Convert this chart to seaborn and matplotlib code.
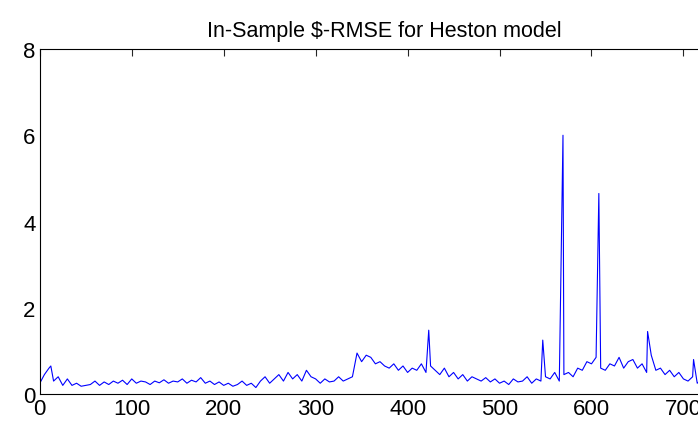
import numpy as np
import pandas as pd
import matplotlib
matplotlib.use("Agg")
import matplotlib.pyplot as plt
import seaborn as sns

base_x = list(range(0, 751, 5))
base_y = [0.25,0.45,0.6,0.3,0.4,0.2,0.35,0.2,0.25,0.18,0.2,
          0.22,0.3,0.2,0.28,0.22,0.3,0.25,0.32,0.22,0.35,
          0.25,0.3,0.28,0.22,0.3,0.26,0.33,0.25,0.3,0.28,
          0.35,0.25,0.32,0.28,0.38,0.25,0.3,0.22,0.28,0.2,
          0.25,0.18,0.22,0.3,0.2,0.25,0.15,0.3,0.4,0.25,
          0.35,0.45,0.3,0.5,0.35,0.45,0.3,0.55,0.4,0.35,
          0.25,0.35,0.28,0.3,0.4,0.3,0.35,0.4,0.95,0.75,
          0.9,0.85,0.7,0.75,0.65,0.6,0.7,0.55,0.65,0.5,
          0.6,0.55,0.7,0.5,0.65,0.55,0.45,0.6,0.4,0.5,
          0.35,0.45,0.3,0.4,0.35,0.3,0.38,0.28,0.35,0.25,
          0.3,0.22,0.35,0.28,0.3,0.4,0.25,0.35,0.3,0.4,
          0.35,0.5,0.3,0.45,0.5,0.4,0.6,0.55,0.75,0.7,
          0.85,0.6,0.55,0.7,0.65,0.85,0.6,0.75,0.8,0.6,
          0.7,0.5,0.9,0.55,0.6,0.45,0.55,0.4,0.5,0.35,
          0.3,0.4,0.25,0.35,0.3,0.3,0.25,0.35,0.3,0.5]
spike_x = [12, 423, 547, 569, 608, 661, 711]
spike_y = [0.65, 1.48, 1.25, 6.0, 4.65, 1.45, 0.8]

df = pd.DataFrame({"t": base_x + spike_x, "rmse": base_y + spike_y}).sort_values("t")

sns.set_style("white")
plt.rcParams['font.family'] = ['Liberation Sans', 'DejaVu Sans']
fig = plt.figure(figsize=(6.98, 4.31), dpi=100)
ax = fig.add_axes([0.057, 0.0835, 1.045 - 0.057, 0.884 - 0.0835])
sns.lineplot(data=df, x="t", y="rmse", color="#0000ff", lw=0.8, ax=ax)
ax.set_xlim(0, 750)
ax.set_ylim(0, 8)
ax.set_xticks(range(0, 751, 100))
ax.set_yticks(range(0, 9, 2))
ax.set_xlabel("")
ax.set_ylabel("")
ax.tick_params(direction="in", top=True, right=True, labelsize=16, length=5, width=0.8,
               labelcolor="black", pad=3)
for s in ax.spines.values():
    s.set_color("black")
    s.set_linewidth(0.8)
ax.set_title("In-Sample $-RMSE for Heston model", fontsize=15.5, pad=9, color="black")
fig.savefig("out.png", dpi=100)
